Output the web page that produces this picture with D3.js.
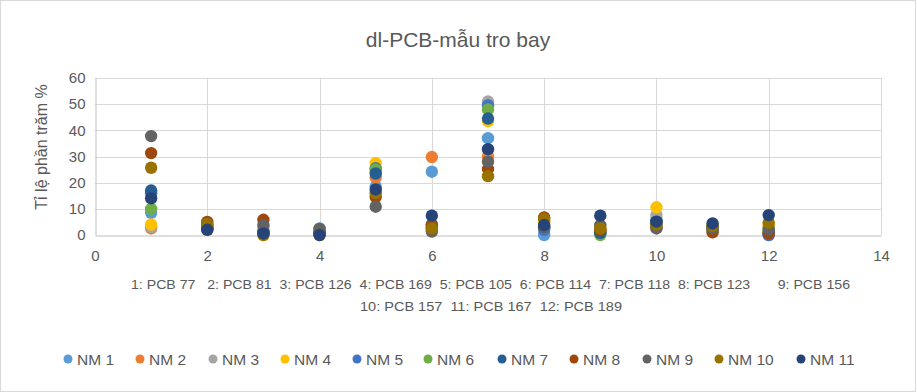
<!DOCTYPE html>
<html><head><meta charset="utf-8">
<script src="https://cdn.jsdelivr.net/npm/d3@7"></script>
<style>body{margin:0;background:#fff}svg{display:block}text{font-family:"Liberation Sans","DejaVu Sans",sans-serif;fill:#595959}</style>
</head><body><svg id="c" width="917" height="392"></svg>
<script>
const categories = [1,2,3,4,5,6,7,8,9,10,11,12];
const seriesNames = ["NM 1","NM 2","NM 3","NM 4","NM 5","NM 6","NM 7","NM 8","NM 9","NM 10","NM 11"];
const colors = ["#5B9BD5","#ED7D31","#A5A5A5","#FFC000","#4472C4","#70AD47","#255E91","#9E480E","#636363","#997300","#264478"];
const NM1  = [8.5, 2, 1.5, 2.5, 18.5, 24.2, 37, 0, 1, 6, 2, 0];
const NM2  = [2.5, 3, 1, 0.5, 22, 29.8, 30, 5, 2, 5, 3, 1];
const NM3  = [3, 2.5, 3, 1.5, 24, 3, 51, 4, 3.5, 7.6, 3, 3];
const NM4  = [4, 2, 0, 0.5, 27.5, 2, 43.5, 5, 2, 10.6, 3, 4];
const NM5  = [16, 2.5, 1, 1, 25.5, 3, 49.5, 2, 1, 4, 2, 0];
const NM6  = [10, 3, 0.5, 0.5, 25, 2, 48, 3, 0, 5, 2, 2];
const NM7  = [17, 2.5, 1, 1, 23.5, 4, 44.5, 3, 0.8, 5, 3, 1];
const NM8  = [31.3, 5, 5.8, 0.5, 14.5, 3.8, 25.2, 6.7, 2, 3, 1, 0.6];
const NM9  = [37.8, 3.5, 3.8, 2.3, 10.8, 1.3, 28, 3, 3.8, 2.5, 2.6, 2.2];
const NM10 = [25.7, 4.2, 0, 0, 16, 2.5, 22.5, 6.1, 2.5, 4, 3.5, 4.7];
const NM11 = [14, 2, 0.6, 0, 17.4, 7.4, 32.8, 3.8, 7.4, 5.1, 4.4, 7.6];
const seriesValues = [NM1,NM2,NM3,NM4,NM5,NM6,NM7,NM8,NM9,NM10,NM11];
const xTicks = [0,2,4,6,8,10,12,14];
const yTicks = [0,10,20,30,40,50,60];
const title = "dl-PCB-mẫu tro bay";
const yTitle = "Tỉ lệ phần trăm %";
const xTitle1 = "1: PCB 77   2: PCB 81  3: PCB 126  4: PCB 169  5: PCB 105  6: PCB 114  7: PCB 118  8: PCB 123       9: PCB 156";
const xTitle2 = "10: PCB 157  11: PCB 167  12: PCB 189";

const svg = d3.select("#c");
svg.append("rect").attr("x",0.5).attr("y",0.5).attr("width",915).attr("height",391).attr("fill","#fff").attr("stroke","#D9D9D9");
const x = d3.scaleLinear().domain([0,14]).range([95,881]);
const y = d3.scaleLinear().domain([0,60]).range([235,78]);

const g = svg.append("g");
g.selectAll(".hg").data(yTicks.filter(d=>d>0)).join("line")
  .attr("x1",x(0)).attr("x2",x(14)).attr("y1",d=>Math.round(y(d))+0.5).attr("y2",d=>Math.round(y(d))+0.5)
  .attr("stroke","#D9D9D9");
g.selectAll(".vg").data(xTicks.filter(d=>d>0)).join("line")
  .attr("y1",y(0)).attr("y2",y(60)).attr("x1",d=>Math.round(x(d))+0.5).attr("x2",d=>Math.round(x(d))+0.5)
  .attr("stroke","#D9D9D9");
const xa = svg.append("g").attr("transform",`translate(0,${Math.round(y(0))+0.5})`)
  .call(d3.axisBottom(x).tickValues(xTicks).tickSize(0).tickPadding(15));
xa.select(".domain").attr("stroke","#BFBFBF");
xa.selectAll("text").style("font-size","15px").attr("fill","#595959");
const ya = svg.append("g").attr("transform",`translate(${Math.round(x(0))+0.5},0)`)
  .call(d3.axisLeft(y).tickValues(yTicks).tickSize(0).tickPadding(10));
ya.select(".domain").attr("stroke","#BFBFBF");
ya.selectAll("text").style("font-size","15px").attr("fill","#595959");

seriesValues.forEach((vals,i)=>{
  svg.append("g").selectAll("circle").data(categories.map((c,j)=>({c,v:vals[j]}))).join("circle")
    .attr("cx",d=>x(d.c)).attr("cy",d=>y(d.v)).attr("r",6.2).attr("fill",colors[i]);
});

svg.append("text").attr("x",458).attr("y",47).attr("text-anchor","middle").style("font-size","21px").text(title);
svg.append("text").attr("transform","translate(47,147) rotate(-90)").attr("text-anchor","middle").style("font-size","16px").text(yTitle);
svg.append("text").attr("x",131).attr("y",289).style("font-size","13px").attr("textLength",719).attr("lengthAdjust","spacingAndGlyphs").style("white-space","pre").text(xTitle1);
svg.append("text").attr("x",360).attr("y",311).style("font-size","13px").attr("textLength",262).attr("lengthAdjust","spacingAndGlyphs").style("white-space","pre").text(xTitle2);

const legX = [68,140,213,285,357,428,502,574,647,719,801];
const lg = svg.append("g");
seriesNames.forEach((n,i)=>{
  lg.append("circle").attr("cx",legX[i]).attr("cy",359).attr("r",4.5).attr("fill",colors[i]);
  lg.append("text").attr("x",legX[i]+9).attr("y",365).style("font-size","15.5px").text(n);
});
</script></body></html>
